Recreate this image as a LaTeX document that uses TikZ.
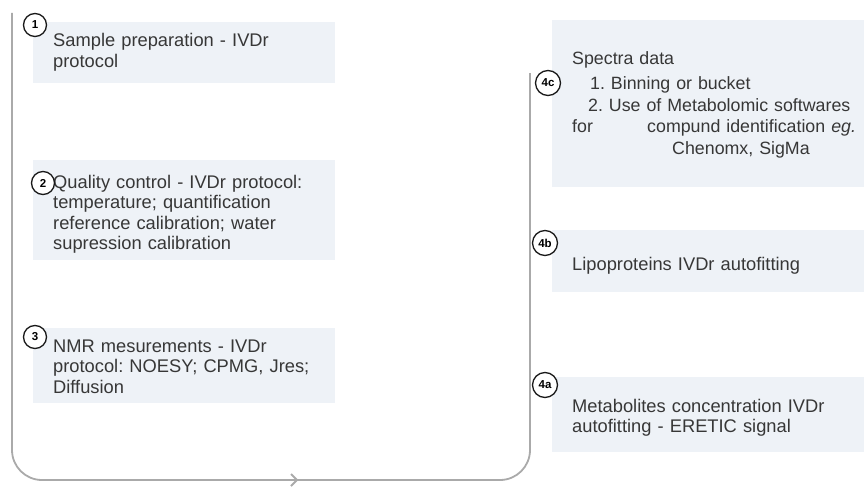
\documentclass[tikz,border=0pt]{standalone}
\usepackage{fontspec}
\setmainfont{Liberation Sans}
\definecolor{boxfill}{RGB}{238,242,247}
\definecolor{txt}{RGB}{55,55,55}
\definecolor{flowgray}{RGB}{170,170,170}
\frenchspacing
\begin{document}
\begin{tikzpicture}[x=1pt,y=-1pt,
  panel/.style={fill=boxfill,draw=none},
  badge/.style={circle,draw=black!90,line width=1.3pt,fill=white,inner sep=0pt,minimum size=23pt,font=\bfseries\fontsize{11.5}{11.5}\selectfont},
  steptext/.style={anchor=base west,inner sep=0pt,text width=300pt,align=left,text=txt,font=\fontsize{18.3}{20.5}\selectfont},
  flow/.style={draw=flowgray,line width=1.8pt,rounded corners=30pt}
]
\useasboundingbox (0,0) rectangle (864,487);
% panels
\path[panel] (33,22) rectangle (335,83);
\path[panel] (33,160) rectangle (335,260);
\path[panel] (33,328) rectangle (335,403);
\path[panel] (552,20) rectangle (864,187);
\path[panel] (552,230) rectangle (864,292);
\path[panel] (552,377) rectangle (864,452);
% flow line
\coordinate (fs) at (12,13);
\coordinate (fbl) at (12,480);
\coordinate (fbr) at (530,480);
\coordinate (fe) at (530,73);
\coordinate (chev) at (297,480);
\draw[flow] (fs) -- (fbl) -- (fbr) -- (fe);
\draw[draw=flowgray,line width=1.8pt] ([shift={(-6,-6)}]chev) -- (chev) -- ([shift={(-6,6)}]chev);
% texts
\node[steptext] (t1) at (53,47) {Sample preparation - IVDr\\protocol};
\node[steptext] (t2) at (53,188) {Quality control - IVDr protocol:\\temperature; quantification\\reference calibration; water\\supression calibration};
\node[steptext] (t3) at (53,352) {NMR mesurements - IVDr\\protocol: NOESY; CPMG, Jres;\\Diffusion};
\node[steptext,font=\fontsize{17.8}{21.8}\selectfont] (t4c) at (572,64) {Spectra data\\[3.5pt]\hspace*{18pt}1. Binning or bucket\\\hspace*{16pt}2. Use of Metabolomic softwares\\\makebox[75pt][l]{for}compund identification \textit{eg.}\\\hspace*{100pt}Chenomx, SigMa};
\node[steptext] (t4b) at (572,270) {Lipoproteins IVDr autofitting};
\node[steptext] (t4a) at (572,412) {Metabolites concentration IVDr\\autofitting - ERETIC signal};
% badges
\node[badge] (b1) at (35,25) {1};
\node[badge] (b2) at (43,183) {2};
\node[badge] (b3) at (35,337) {3};
\node[badge,minimum size=25pt] (b4c) at (548,83) {4c};
\node[badge,minimum size=25pt] (b4b) at (545,243) {4b};
\node[badge,minimum size=25pt] (b4a) at (545,385) {4a};
\end{tikzpicture}
\end{document}
